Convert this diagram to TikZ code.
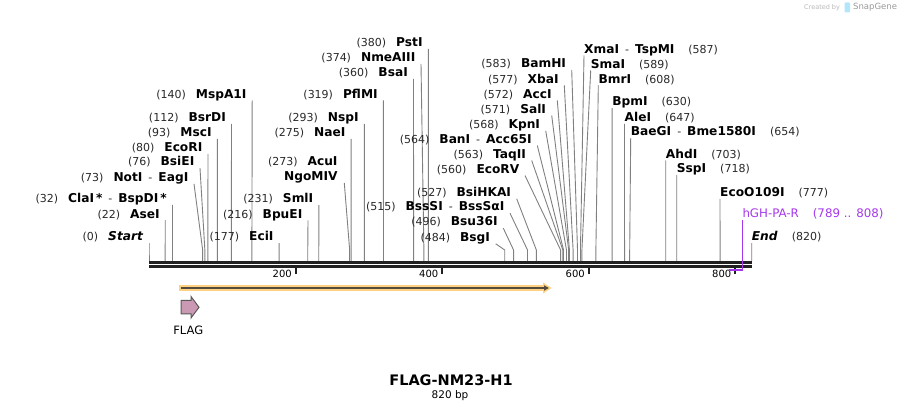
\documentclass[tikz,border=0pt]{standalone}
\usepackage{fontspec}
\setmainfont{DejaVu Sans}
\usetikzlibrary{arrows.meta}
\definecolor{cutgray}{RGB}{128,128,128}
\definecolor{numgray}{RGB}{40,40,40}
\definecolor{primerpurple}{RGB}{165,55,235}
\definecolor{orfband}{RGB}{255,210,130}
\definecolor{orfline}{RGB}{85,75,65}
\definecolor{flagpink}{RGB}{204,153,180}
\newcommand\sitenum{\fontsize{11}{12}\selectfont\mdseries\color{numgray}}
\newcommand\sitename{\fontsize{12.2}{14}\selectfont\bfseries}
\newcommand\dsh{\hspace{6pt}{\sitenum-}\hspace{6pt}}
\tikzset{>=stealth,
  cutline/.style={draw=cutgray, line width=0.9pt},
  leftsite/.style={anchor=base east, inner sep=0pt},
  rightsite/.style={anchor=base west, inner sep=0pt},
  ticklbl/.style={anchor=east, inner sep=0pt, font=\fontsize{10}{12}\selectfont}}

\begin{document}
\begin{tikzpicture}[x=1pt,y=-1pt]
    \useasboundingbox (0,0) rectangle (902,411);
    \foreach \p/\lx/\ly/\nm [count=\i] in {0/149/236.7/{\textit{Start}}, 22/165.3/214/AseI,
      32/172.5/198.5/{ClaI\,*\dsh BspDI\,*}, 73/194/177.3/{NotI\dsh EagI}, 76/200/161.7/BsiEI,
      80/208/147.3/EcoRI, 93/217.3/132.3/MscI, 112/231.5/117.3/BsrDI, 140/252.2/94/MspA1I,
      177/279.2/236.7/EciI, 216/308/214/BpuEI, 231/318.9/198.7/SmlI, 275/351.1/132.3/NaeI,
      293/364.4/117.3/NspI, 319/383.4/94/PflMI, 360/413.5/72.3/BsaI, 374/421/57.3/NmeAIII,
      380/428.3/42.3/PstI, 484/495.7/237.3/BsgI, 496/503.3/221.7/Bsu36I,
      515/510/206.7/{BssSI\dsh BssSαI}, 527/516.7/192.3/BsiHKAI, 560/525/169/EcoRV,
      563/531.7/154/TaqII, 564/537.3/139/{BanI\dsh Acc65I}, 568/545.7/124.3/KpnI,
      571/551.7/109/SalI, 572/557.3/94/AccI, 577/564.3/79/XbaI, 583/571.7/63.3/BamHI}{
      \coordinate (Lt\i) at (\lx,\ly+6.5);
      \coordinate (Lk\i) at (149+0.735*\p,250);
      \coordinate (Ls\i) at (149+0.735*\p,261);
      \node[leftsite] (L\i) at (\lx-5.5,\ly+4.3) {{\sitenum(\p)}\hspace{10pt}{\sitename\nm}};
      \draw[cutline] (Lt\i) -- (Lk\i) -- (Ls\i);
    }
    \node[leftsite] (acu) at (337.7,166) {{\sitenum(273)}\hspace{10pt}{\sitename AcuI}};
    \node[leftsite] (ngo) at (337.7,181) {\sitename NgoMIV};
    \coordinate (ngot) at (344.3,183);
    \coordinate (ngok) at (149+0.735*273,250);
    \coordinate (ngos) at (149+0.735*273,261);
    \draw[cutline] (ngot) -- (ngok) -- (ngos);
    \foreach \p/\lx/\ly/\nm [count=\i] in {587/584/49/{XmaI\dsh TspMI}, 589/590.7/64/SmaI,
      608/598.3/79/BmrI, 630/612.1/101.7/BpmI, 647/624.5/117.3/AleI,
      654/630.7/131.7/{BaeGI\dsh Bme1580I}, 703/665.7/154/AhdI, 718/676.7/168.3/SspI,
      777/720/192.3/EcoO109I, 820/751.7/236.7/{\textit{End}}}{
      \coordinate (Rt\i) at (\lx,\ly+6.5);
      \coordinate (Rk\i) at (149+0.735*\p,250);
      \coordinate (Rs\i) at (149+0.735*\p,261);
      \node[rightsite] (R\i) at (\lx,\ly+4.3) {{\sitename\nm}\hspace{14pt}{\sitenum(\p)}};
      \draw[cutline] (Rt\i) -- (Rk\i) -- (Rs\i);
    }
    \coordinate (b0) at (149,262.5);
    \coordinate (b1) at (752,262.5);
    \coordinate (c0) at (149,266.4);
    \coordinate (c1) at (752,266.4);
    \draw[line width=3pt, black!87] (b0) -- (b1);
    \draw[line width=2.5pt, black!87] (c0) -- (c1);
    \foreach \t in {200,400,600,800}{
      \coordinate (T\t) at (149+0.7325*\t,267.7);
      \coordinate (U\t) at (149+0.7325*\t,274);
      \draw[line width=2pt, black!87] (T\t) -- (U\t);
      \node[ticklbl] (n\t) at (149+0.7325*\t-3.5,274) {\t};
    }
    \node[rightsite, text=primerpurple, font=\fontsize{11.8}{13}\selectfont] (hgh) at (742.3,217.5) {hGH-PA-R\hspace{14pt}(789 .. 808)};
    \coordinate (ht) at (742.7,220);
    \coordinate (hb) at (742.7,270);
    \coordinate (he) at (728.9,270);
    \draw[primerpurple, line width=1.5pt] (ht) -- (hb) -- (he);
    \fill[orfband] (179,285.2) -- (543,285.2) -- (543,282.5) -- (551.5,288) -- (543,293.5) -- (543,290.8) -- (179,290.8) -- cycle;
    \coordinate (o0) at (180.5,288);
    \coordinate (o1) at (549,288);
    \draw[orfline, line width=2pt, -{Triangle[length=5pt,width=5pt]}] (o0) -- (o1);
    \filldraw[fill=flagpink, draw=black!65, line width=1pt] (181,300.5) -- (191,300.5) -- (191,296.5) -- (199,307.3) -- (191,318) -- (191,314) -- (181,314) -- cycle;
    \node[font=\fontsize{11.5}{13}\selectfont] (flag) at (188.3,330) {FLAG};
    \node[font=\fontsize{14.5}{16}\selectfont\bfseries] (title) at (451,380) {FLAG-NM23-H1};
    \node[font=\fontsize{10.5}{12}\selectfont] (len) at (450,395.5) {820 bp};
    \node[anchor=west, inner sep=0pt, text=black!28, font=\fontsize{6.5}{8}\selectfont] (made) at (804,7.5) {Created by};
    \fill[cyan!30, rounded corners=1pt] (844.5,2.5) rectangle (850,12.5);
    \node[anchor=west, inner sep=0pt, text=black!40, font=\fontsize{8.5}{10}\selectfont] (sg) at (853,7.5) {SnapGene};
\end{tikzpicture}
\end{document}
